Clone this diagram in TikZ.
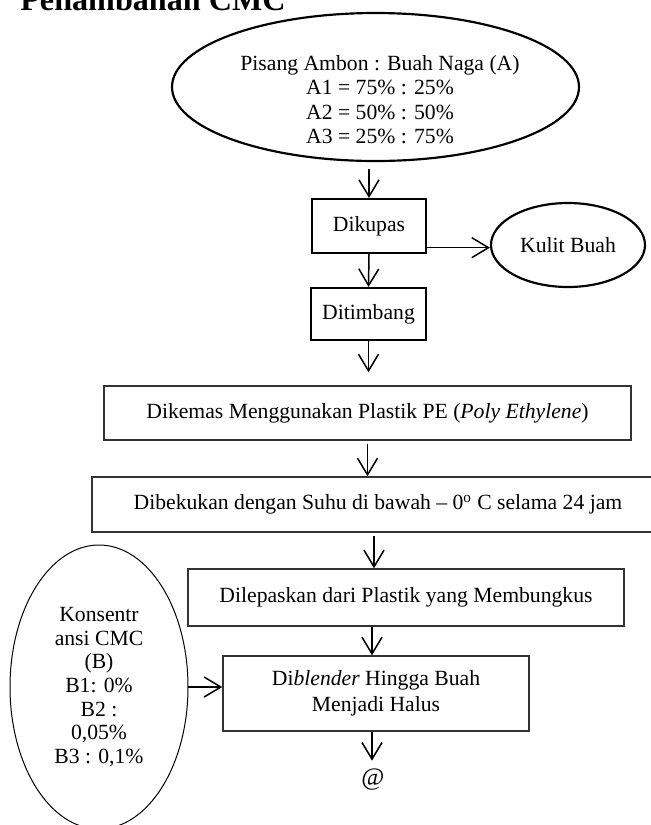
\documentclass[tikz,border=0pt]{standalone}
\usepackage{fontspec}
\setmainfont{Liberation Serif}
\usepackage{tikz}
\usetikzlibrary{arrows.meta}
\usetikzlibrary{shapes.geometric}
\usetikzlibrary{positioning}
\tikzset{arr/.style = {-{Straight Barb[length=10pt, width=12pt]}, line width=0.9pt}}
\tikzset{box/.style = {draw = black!80, line width = 0.9pt, rectangle, inner sep = 0}}
\tikzset{boldbox/.style = {draw, line width = 1.3pt, rectangle, inner sep = 0}}
\tikzset{oval/.style = {draw, ellipse, inner sep = 0}}
\tikzset{txt/.style = {font = \fontsize{13}{14.6}\selectfont, align = center}}

\begin{document}
\begin{tikzpicture}[x=0.6pt, y=-0.6pt, every node/.style={txt}]
    \useasboundingbox (0, 0) rectangle (651, 825);

    \node [anchor = base west, inner sep = 0, font = \fontsize{19.3}{20}\bfseries\selectfont] (title) at (20, 10) {Penambahan CMC};

    \node [oval, line width = 1.3pt, minimum width = 244.2pt, minimum height = 88.8pt] (ratio) at (375.5, 87) {};
    \node (ratiotext) at (380, 99.5)
        {Pisang Ambon : Buah Naga (A)\\ A1 = 75\% : 25\%\\ A2 = 50\% : 50\%\\ A3 = 25\% : 75\%};
    \node [boldbox, minimum width = 68.4pt, minimum height = 32.4pt, text depth = 3pt] (kupas) at (369, 226) {Dikupas};
    \node [oval, line width = 1.3pt, minimum width = 92.4pt, minimum height = 50.4pt] (kulit) at (568, 245) {Kulit Buah};
    \node [boldbox, minimum width = 69pt, minimum height = 31.2pt] (timbang) at (368.5, 314) {Ditimbang};
    \node [box, minimum width = 316.2pt, minimum height = 32.4pt] (kemas) at (367.5, 413)
        {Dikemas Menggunakan Plastik PE (\textit{Poly Ethylene})};
    \node [box, minimum width = 343.2pt, minimum height = 33pt] (beku) at (378, 504.5)
        {Dibekukan dengan Suhu di bawah -- 0\textsuperscript{o} C selama 24 jam};
    \node [box, minimum width = 261.6pt, minimum height = 34.2pt] (lepas) at (406, 597.5)
        {Dilepaskan dari Plastik yang Membungkus};
    \node [box, minimum width = 183.6pt, minimum height = 45pt, font = \fontsize{13}{15.6}\selectfont] (blend) at (376, 693.5)
        {Di\textit{blender} Hingga Buah\\ Menjadi Halus};
    \node [oval, line width = 0.6pt, minimum width = 106.8pt, minimum height = 170.4pt,
        font = \fontsize{13}{14.2}\selectfont] (cmc) at (99, 687)
        {Konsentr\\ ansi CMC\\ (B)\\ B1: 0\%\\ B2 :\\ 0,05\%\\ B3 : 0,1\%};
    \node [inner sep = 1pt, font = \fontsize{15}{16}\selectfont] (hasil) at (373, 780) {@};

    \draw [arr, shorten <= 4.2pt] (ratio.south -| kupas.north) -- (kupas.north);
    \draw [arr] ([yshift = -13pt]kupas.east) -- ([yshift = -13pt]kupas.east -| kulit.west);
    \draw [arr] (kupas.south) -- (timbang.north);
    \draw [arr, shorten >= 7.8pt] (timbang.south) -- (timbang.south |- kemas.north);
    \draw [arr, shorten <= 2pt] (kemas.south) -- (kemas.south |- beku.north);
    \draw [arr, shorten <= 2pt] ([xshift = -2.4pt]beku.south) -- ([xshift = -2.4pt]beku.south |- lepas.north);
    \draw [arr] ([xshift = -2.4pt]blend.north |- lepas.south) -- ([xshift = -2.4pt]blend.north);
    \draw [arr, shorten >= 4pt] ([xshift = -2.4pt]blend.south) -- ([xshift = -2.4pt]blend.south |- hasil.north);
    \draw [arr] (cmc.east) -- (cmc.east -| blend.west);
\end{tikzpicture}
\end{document}
